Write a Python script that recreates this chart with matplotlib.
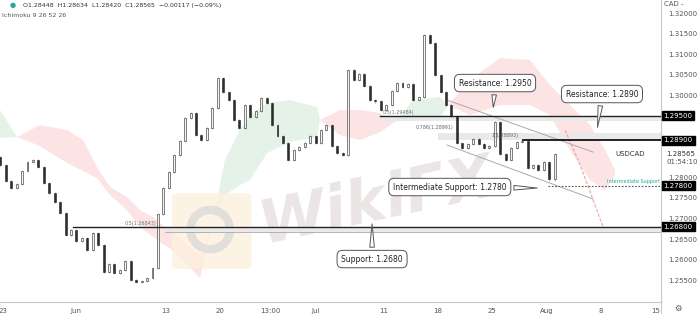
import numpy as np
import matplotlib.pyplot as plt
from matplotlib.patches import FancyBboxPatch, Ellipse

# USDCAD 12h closes starting 23 May (x in trading days)
first_open = 1.2850
closes = [1.28300, 1.27910, 1.27740, 1.27837, 1.28154, 1.28373, 1.28422, 1.28251, 1.27862, 1.27618,
          1.27399, 1.27131, 1.26596, 1.26718, 1.26450, 1.26523, 1.26231, 1.26645, 1.26352, 1.25695,
          1.25890, 1.25671, 1.25744, 1.25963, 1.25500, 1.25452, 1.25480, 1.25549, 1.25793, 1.27107,
          1.27740, 1.28130, 1.28543, 1.28884, 1.29444, 1.29566, 1.29030, 1.28909, 1.29201, 1.29688,
          1.30418, 1.30077, 1.29882, 1.29395, 1.29201, 1.29760, 1.29468, 1.29614, 1.29931, 1.29809,
          1.29274, 1.29006, 1.28836, 1.28422, 1.28665, 1.28738, 1.28836, 1.29006, 1.28836, 1.29152,
          1.29274, 1.28762, 1.28592, 1.28543, 1.30613, 1.30369, 1.30515, 1.30223, 1.29882, 1.29850,
          1.29639, 1.29760, 1.30101, 1.30296, 1.30199, 1.30272, 1.29882, 1.29955, 1.31464, 1.31270,
          1.30491, 1.30077, 1.29760, 1.29493, 1.28836, 1.28714, 1.28811, 1.28933, 1.28811, 1.28714,
          1.28762, 1.29347, 1.28568, 1.28422, 1.28714, 1.28860, 1.28884, 1.28227, 1.28300, 1.28178,
          1.28373, 1.27950, 1.28565]

# ichimoku cloud spans
cloud_x = [-0.28, 1.29, 3.40, 5.89, 7.36, 8.65, 9.84, 11.41, 12.60, 13.80, 15.82, 18.12, 19.23,
           20.42, 21.80, 22.72, 24.29, 26.40, 28.89, 29.16, 31.00, 32.84, 34.68, 36.06, 37.72,
           40.20, 40.94, 42.96, 45.72, 48.48, 50.32, 52.16, 54.00, 55.38, 56.30]
span_a = [1.29639, 1.28982, 1.28762, 1.28349, 1.28154, 1.27983, 1.27570, 1.27205, 1.26791, 1.26548,
          1.26183, 1.25549, 1.26840, 1.28422, 1.29152, 1.29517, 1.29809, 1.29882, 1.29712, 1.29395,
          1.29030, 1.28909, 1.29103, 1.29347, 1.29882, 1.29955, 1.29760, 1.29517, 1.29760, 1.29760,
          1.29517, 1.28665, 1.27935, 1.27691, 1.28057]
span_b = [1.28957, 1.28982, 1.29274, 1.29152, 1.28909, 1.28251, 1.27765, 1.27521, 1.27205, 1.27034,
          1.26597, 1.26110, 1.26840, 1.27570, 1.27813, 1.27935, 1.28592, 1.28860, 1.28982, 1.29395,
          1.29639, 1.29639, 1.29566, 1.29347, 1.29469, 1.29444, 1.29760, 1.30369, 1.30905, 1.30856,
          1.30247, 1.29760, 1.29274, 1.28665, 1.28178]

# key levels
res1 = 1.2950
res2 = 1.2890
mid_sup = 1.2780
sup = 1.2680

# descending channel
chan_x = [40.85, 54.28]
chan_top = [1.29882, 1.28616]
chan_bot = [1.28787, 1.27473]

# projected path
proj_x = [51.7, 53.1, 55.2]
proj_y = [1.29152, 1.28300, 1.26791]

date_pos = [0, 6.7, 15, 20, 24.6, 28.8, 35, 40, 45, 50, 55, 60]
date_lbl = ['23', 'Jun', '13', '20', '13:00', 'Jul', '11', '18', '25', 'Aug', '8', '15']
price_ticks = [1.32, 1.315, 1.31, 1.305, 1.30, 1.28, 1.275, 1.27, 1.265, 1.26, 1.255]

fig = plt.figure(figsize=(6.98, 3.14), dpi=100)
ax = fig.add_axes([0, 0.038, 0.947, 0.962])
ax.set_xlim(-0.28, 60.53)
ax.set_ylim(1.24965, 1.32317)

# cloud
ca, cb = np.array(span_a), np.array(span_b)
ax.fill_between(cloud_x, ca, cb, where=ca >= cb, interpolate=True, color='#e4f2e7', lw=0, zorder=0)
ax.fill_between(cloud_x, ca, cb, where=ca < cb, interpolate=True, color='#fce4e4', lw=0, zorder=0)

# watermark
ax.add_patch(FancyBboxPatch((0.27, 0.12), 0.1, 0.23, boxstyle='round,pad=0.01',
                            transform=ax.transAxes, fc='#fdf0de', ec='none', alpha=0.8, zorder=0))
ax.add_patch(Ellipse((0.318, 0.24), 0.06, 0.13, transform=ax.transAxes, fc='none',
                     ec='#e2dfdb', lw=6, zorder=0))
ax.text(0.57, 0.33, 'WikiFX', transform=ax.transAxes, fontsize=44, fontweight='bold',
        style='italic', rotation=12, color='#e3dada', alpha=0.7, ha='center', va='center', zorder=0)

# candles
n = len(closes)
cx = np.arange(n) * 0.5 - 0.25
opens = [first_open] + closes[:-1]
for x, o, c in zip(cx, opens, closes):
    lo, hi = min(o, c), max(o, c)
    ax.vlines(x, lo - 0.0003, hi + 0.0003, color='#777777', lw=0.4, zorder=2)
    if c >= o:
        ax.bar(x, hi - lo, bottom=lo, width=0.18, color='#f4f4f4', edgecolor='#3a3a3a', lw=0.45, zorder=3)
    else:
        ax.bar(x, hi - lo, bottom=lo, width=0.18, color='#2e2e2e', edgecolor='#2e2e2e', lw=0.45, zorder=3)

xr = 60.53
# levels and zones
ax.plot([34.7, xr], [res1, res1], color='#222222', lw=1.0, zorder=4)
ax.fill_between([34.7, xr], res1 - 0.0014, res1, color='#e9e9e9', lw=0, zorder=1)
ax.plot([47.8, xr], [res2, res2], color='#111111', lw=1.3, zorder=4)
ax.fill_between([40.0, xr], res2, res2 + 0.0019, color='#e9e9e9', lw=0, zorder=1)
ax.plot([6.4, xr], [sup, sup], color='#222222', lw=1.0, zorder=4)
ax.fill_between([14.9, xr], sup - 0.0014, sup, color='#e9e9e9', lw=0, zorder=1)
ax.plot([14.9, xr], [sup - 0.0014, sup - 0.0014], color='#aaaaaa', lw=0.6, zorder=1)
ax.plot([50.1, xr], [mid_sup, mid_sup], color='#555555', lw=0.8, ls=(0, (1.5, 1.5)), zorder=4)

ax.text(34.9, res1 + 0.0002, '0.5(1.29484)', fontsize=3.5, color='#777777', va='bottom')
ax.text(38.0, res2 + 0.0025, '0.786(1.28991)', fontsize=3.5, color='#666666', va='bottom')
ax.text(44.9, res2 + 0.0005, '1(1.28893)', fontsize=3.5, color='#666666', va='bottom')
ax.text(11.2, sup + 0.0002, '0.5(1.26843)', fontsize=3.5, color='#777777', va='bottom')
ax.text(55.6, mid_sup + 0.0003, 'Intermediate Support', fontsize=3.5, color='#26a69a', va='bottom')

# channel
ax.plot(chan_x, chan_top, color='#aaaaaa', lw=0.7, zorder=2)
ax.plot(chan_x, chan_bot, color='#aaaaaa', lw=0.7, zorder=2)
ax.plot(proj_x, proj_y, color='#f08c8c', lw=0.8, ls=(0, (3, 1.5)), alpha=0.8, zorder=2)

# callouts
box = dict(boxstyle='round,pad=0.55,rounding_size=0.7', fc='white', ec='#555555', lw=0.7)
arr = dict(arrowstyle='wedge,tail_width=0.6,shrink_factor=0.5', fc='white', ec='#555555', lw=0.7)
for txt, tpos, tip in [('Resistance: 1.2950', (45.26, 1.30296), (45.08, 1.29639)),
                       ('Resistance: 1.2890', (55.1, 1.30028), (54.65, 1.29152)),
                       ('Intermediate Support: 1.2780', (41.1, 1.27765), (49.4, 1.27740)),
                       ('Support: 1.2680', (33.95, 1.26012), (33.95, 1.26937))]:
    ax.annotate(txt, xy=tip, xytext=tpos, fontsize=5.5, color='#222222', ha='center', va='center',
                bbox=box, arrowprops=arr, zorder=6)

# axes styling
for s in ['left', 'top']:
    ax.spines[s].set_visible(False)
ax.spines['right'].set_color('#c8c8c8')
ax.spines['bottom'].set_color('#c8c8c8')
ax.yaxis.tick_right()
ax.set_yticks(price_ticks)
ax.set_yticklabels(['%.5f' % p for p in price_ticks])
ax.tick_params(axis='y', length=0, labelsize=5, labelcolor='#555555', pad=5)
ax.set_xticks(date_pos)
ax.set_xticklabels(date_lbl)
ax.tick_params(axis='x', length=0, labelsize=5, labelcolor='#555555', pad=4)

ytr = ax.get_yaxis_transform()
for lv in [res1, res2, mid_sup, sup]:
    ax.text(1.004, lv, '%.5f' % lv, transform=ytr, fontsize=5, color='white', va='center', ha='left',
            bbox=dict(boxstyle='square,pad=0.25', fc='black', ec='black'), clip_on=False, zorder=7)
ax.text(1.008, closes[-1], '%.5f' % closes[-1], transform=ytr, fontsize=5, color='#333333',
        va='center', ha='left', clip_on=False)
ax.text(1.008, closes[-1] - 0.0019, '01:54:10', transform=ytr, fontsize=5, color='#555555',
        va='center', ha='left', clip_on=False)
ax.text(0.975, closes[-1], 'USDCAD', transform=ytr, fontsize=5, color='#333333',
        va='center', ha='right', clip_on=False)

fig.text(0.952, 0.987, 'CAD -', fontsize=5, color='#555555', va='center')
fig.text(0.971, 0.018, '\u2699', fontsize=6, color='#555555', ha='center', va='center')
fig.add_artist(plt.Line2D([0.947, 0.947], [0, 0.04], color='#c8c8c8', lw=0.8))

fig.text(0.014, 0.984, '\u25cf', fontsize=5, color='#26a69a', va='center')
fig.text(0.033, 0.984, 'O1.28448  H1.28634  L1.28420  C1.28565  \u22120.00117 (\u22120.09%)',
         fontsize=4.5, color='#333333', va='center')
fig.text(0.003, 0.952, 'Ichimoku 9 26 52 26', fontsize=4.5, color='#555555', va='center')

fig.savefig('out.png', dpi=100)
